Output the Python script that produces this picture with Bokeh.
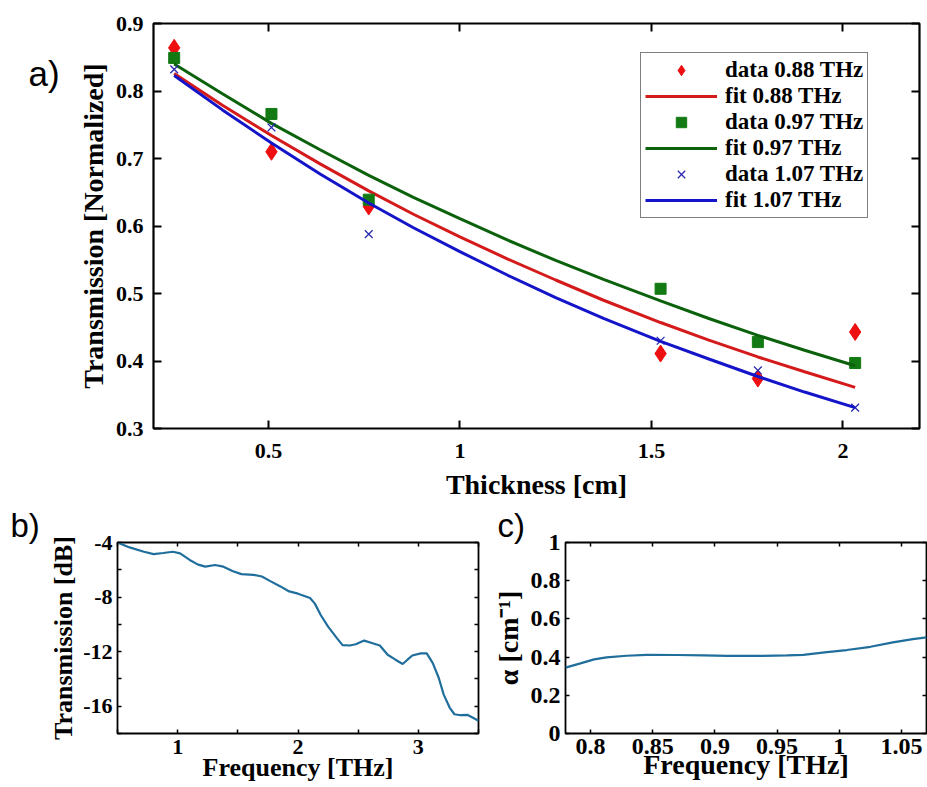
from bokeh.plotting import figure
from bokeh.models import FixedTicker, LinearAxis, Range1d
from bokeh.layouts import column, row
from bokeh.embed import file_html
from bokeh.resources import INLINE
from bokeh.core.properties import value

# ---------------- data: panel a ----------------
thickness_cm = [0.254, 0.508, 0.762, 1.524, 1.778, 2.032]
data_088 = [0.864, 0.710, 0.629, 0.411, 0.374, 0.443]
data_097 = [0.849, 0.766, 0.639, 0.507, 0.428, 0.397]
data_107 = [0.832, 0.746, 0.588, 0.430, 0.386, 0.331]

fit_thickness = [0.254, 0.38, 0.508, 0.635, 0.762, 0.88, 1.0, 1.125,
                 1.25, 1.375, 1.524, 1.65, 1.778, 1.9, 2.032]
fit_088 = [0.826, 0.779, 0.734, 0.692, 0.652, 0.617, 0.584, 0.551,
           0.520, 0.490, 0.457, 0.431, 0.406, 0.384, 0.361]
fit_097 = [0.840, 0.796, 0.752, 0.713, 0.675, 0.642, 0.611, 0.579,
           0.549, 0.521, 0.489, 0.463, 0.438, 0.416, 0.393]
fit_107 = [0.823, 0.772, 0.723, 0.677, 0.634, 0.597, 0.562, 0.527,
           0.494, 0.463, 0.429, 0.403, 0.377, 0.354, 0.331]

a_xticks = [0.5, 1.0, 1.5, 2.0]
a_xlabels = ["0.5", "1", "1.5", "2"]
a_yticks = [0.3, 0.4, 0.5, 0.6, 0.7, 0.8, 0.9]
a_ylabels = ["0.3", "0.4", "0.5", "0.6", "0.7", "0.8", "0.9"]

# ---------------- data: panel b ----------------
b_freq = [0.50, 0.60, 0.72, 0.80, 0.88, 0.96, 1.02, 1.10, 1.17, 1.23,
          1.31, 1.38, 1.46, 1.53, 1.63, 1.70, 1.77, 1.85, 1.92, 2.00,
          2.10, 2.14, 2.19, 2.25, 2.32, 2.37, 2.43, 2.48, 2.55, 2.62,
          2.68, 2.745, 2.81, 2.87, 2.91, 2.95, 3.02, 3.07, 3.12, 3.17,
          3.21, 3.26, 3.30, 3.35, 3.41, 3.45, 3.50]
b_db = [-4.00, -4.36, -4.68, -4.85, -4.77, -4.68, -4.80, -5.28, -5.62, -5.77,
        -5.65, -5.77, -6.11, -6.32, -6.37, -6.49, -6.83, -7.20, -7.56, -7.75,
        -8.07, -8.48, -9.33, -10.17, -10.97, -11.52, -11.55, -11.46, -11.19, -11.38,
        -11.55, -12.23, -12.59, -12.91, -12.59, -12.28, -12.13, -12.13, -12.84, -13.93,
        -15.13, -16.10, -16.59, -16.66, -16.64, -16.83, -17.07]
b_xticks = [1, 2, 3]
b_xlabels = ["1", "2", "3"]
b_xminor = [0.5, 1.5, 2.5, 3.5]
b_yticks = [-16, -12, -8, -4]
b_ylabels = ["-16", "-12", "-8", "-4"]
b_yminor = [-18, -14, -10, -6]

# ---------------- data: panel c ----------------
c_freq = [0.780, 0.792, 0.803, 0.813, 0.829, 0.845, 0.870, 0.891, 0.910,
          0.936, 0.958, 0.971, 0.990, 1.006, 1.025, 1.043, 1.059, 1.070]
c_alpha = [0.345, 0.367, 0.388, 0.399, 0.407, 0.412, 0.411, 0.409, 0.406,
           0.406, 0.409, 0.412, 0.426, 0.437, 0.454, 0.477, 0.494, 0.503]
c_xticks = [0.8, 0.85, 0.9, 0.95, 1.0, 1.05]
c_xlabels = ["0.8", "0.85", "0.9", "0.95", "1", "1.05"]
c_yticks = [0.0, 0.2, 0.4, 0.6, 0.8, 1.0]
c_ylabels = ["0", "0.2", "0.4", "0.6", "0.8", "1"]

SERIF = "Liberation Serif"
SANS = "Liberation Sans"


def style_axis(ax, ticks, labels, minor, tick_len, show_labels, standoff=5,
               lw=1.5, fs="22px"):
    ax.ticker = FixedTicker(ticks=ticks, minor_ticks=minor)
    ax.major_tick_in = tick_len
    ax.major_tick_out = 0
    ax.minor_tick_in = tick_len
    ax.minor_tick_out = 0
    ax.axis_line_color = None
    ax.major_tick_line_color = "black"
    ax.minor_tick_line_color = "black"
    ax.major_tick_line_width = lw
    ax.minor_tick_line_width = lw
    if show_labels:
        ax.major_label_overrides = {t: l for t, l in zip(ticks, labels)}
        ax.major_label_text_font = SERIF
        ax.major_label_text_font_style = "bold"
        ax.major_label_text_font_size = fs
        ax.major_label_text_color = "black"
        ax.major_label_standoff = standoff
    else:
        ax.major_label_text_font_size = "0px"
        ax.major_label_standoff = 0


def style_axis_label(ax, text, standoff, fs="26px"):
    ax.axis_label = text
    ax.axis_label_text_font = SERIF
    ax.axis_label_text_font_style = "bold"
    ax.axis_label_text_font_size = fs
    ax.axis_label_text_color = "black"
    ax.axis_label_standoff = standoff


def base_fig(w, h, xr, yr, bl, br, bt, bb, olw):
    p = figure(width=w, height=h, x_range=Range1d(*xr), y_range=Range1d(*yr),
               output_backend="svg", toolbar_location=None,
               min_border_left=bl, min_border_right=br,
               min_border_top=bt, min_border_bottom=bb)
    p.xgrid.visible = False
    p.ygrid.visible = False
    p.outline_line_color = "black"
    p.outline_line_width = olw
    p.background_fill_color = "white"
    p.border_fill_color = "white"
    return p


def add_mirrors(p, xt, xm, yt, ym, tl, lw):
    top = LinearAxis()
    style_axis(top, xt, None, xm, tl, False, lw=lw)
    p.add_layout(top, "above")
    right = LinearAxis()
    style_axis(right, yt, None, ym, tl, False, lw=lw)
    p.add_layout(right, "right")


def panel_title(p, text, offset, standoff):
    p.title.text = text
    p.title.align = "left"
    p.title.offset = offset
    p.title.standoff = standoff
    p.title.text_font = SANS
    p.title.text_font_style = "normal"
    p.title.text_font_size = "33px"
    p.title.text_color = "black"


TOP_H = 504
ROW_H = 282

# ================= strip holding the "a)" tag =================
strip = figure(width=74, height=TOP_H, x_range=Range1d(0, 1), y_range=Range1d(0, 1),
               output_backend="svg", toolbar_location=None,
               x_axis_type=None, y_axis_type=None,
               min_border_left=0, min_border_right=0,
               min_border_top=0, min_border_bottom=0)
strip.xgrid.visible = False
strip.ygrid.visible = False
strip.outline_line_color = None
strip.text(x=[0.378], y=[0.876], text=["a)"], text_font=value(SANS),
           text_font_size=value("35px"), text_color="black",
           text_align="left", text_baseline="alphabetic")

# ================= panel a =================
pa = base_fig(853, TOP_H, (0.2, 2.2), (0.3, 0.9), 76, 8, 23, 76, 2.2)
style_axis(pa.xaxis[0], a_xticks, a_xlabels, [], 8, True, standoff=15, lw=2)
style_axis(pa.yaxis[0], a_yticks, a_ylabels, [], 8, True, standoff=10, lw=2)
style_axis_label(pa.xaxis[0], "Thickness [cm]", 8, fs="28px")
style_axis_label(pa.yaxis[0], "Transmission [Normalized]", 4, fs="28px")
add_mirrors(pa, a_xticks, [], a_yticks, [], 8, 2)

pa.scatter(thickness_cm, data_088, marker="diamond", size=17, color="#ee1010",
           legend_label="data 0.88 THz")
pa.line(fit_thickness, fit_088, line_color="#d41a1a", line_width=3,
        legend_label="fit 0.88 THz")
pa.scatter(thickness_cm, data_097, marker="square", size=11, color="#137a13",
           legend_label="data 0.97 THz")
pa.line(fit_thickness, fit_097, line_color="#0c620c", line_width=3,
        legend_label="fit 0.97 THz")
pa.scatter(thickness_cm, data_107, marker="x", size=11, line_color="#2a2ab0",
           line_width=1.3, legend_label="data 1.07 THz")
pa.line(fit_thickness, fit_107, line_color="#1414c8", line_width=3,
        legend_label="fit 1.07 THz")

lg = pa.legend[0]
lg.location = (487, 210)
lg.label_text_font = SERIF
lg.label_text_font_style = "bold"
lg.label_text_font_size = "23px"
lg.label_text_color = "black"
lg.label_height = 26
lg.glyph_height = 26
lg.glyph_width = 72
lg.label_standoff = 8
lg.spacing = 0
lg.padding = 4
lg.margin = 0
lg.border_line_color = "black"
lg.border_line_width = 1.5
lg.background_fill_color = "white"
lg.background_fill_alpha = 1.0

# ================= panel b =================
LINE_C = "#1f6e9c"
pb = base_fig(480, ROW_H, (0.5, 3.5), (-18, -4), 117, 2, 36, 53, 1.8)
style_axis(pb.xaxis[0], b_xticks, b_xlabels, b_xminor, 4, True, standoff=6)
style_axis(pb.yaxis[0], b_yticks, b_ylabels, b_yminor, 4, True, standoff=5)
style_axis_label(pb.xaxis[0], "Frequency [THz]", -4)
style_axis_label(pb.yaxis[0], "Transmission [dB]", 2)
add_mirrors(pb, b_xticks, b_xminor, b_yticks, b_yminor, 4, 1.5)
pb.line(b_freq, b_db, line_color=LINE_C, line_width=2.2)
panel_title(pb, "b)", -107, -2)

# ================= panel c =================
pc = base_fig(447, ROW_H, (0.78, 1.07), (0.0, 1.0), 85, 1, 38, 52, 1.8)
style_axis(pc.xaxis[0], c_xticks, c_xlabels, [], 4, True, standoff=5, fs="24px")
style_axis(pc.yaxis[0], c_yticks, c_ylabels, [], 4, True, standoff=5, fs="24px")
style_axis_label(pc.xaxis[0], "Frequency [THz]", -8, fs="28px")
style_axis_label(pc.yaxis[0], "\u03b1 [cm\u207b\u00b9]", 4, fs="28px")
add_mirrors(pc, c_xticks, [], c_yticks, [], 4, 1.5)
pc.line(c_freq, c_alpha, line_color=LINE_C, line_width=2.2)
panel_title(pc, "c)", -68, -2)

layout = column(row(strip, pa), row(pb, pc))
open("out.html", "w").write(file_html(layout, INLINE))
